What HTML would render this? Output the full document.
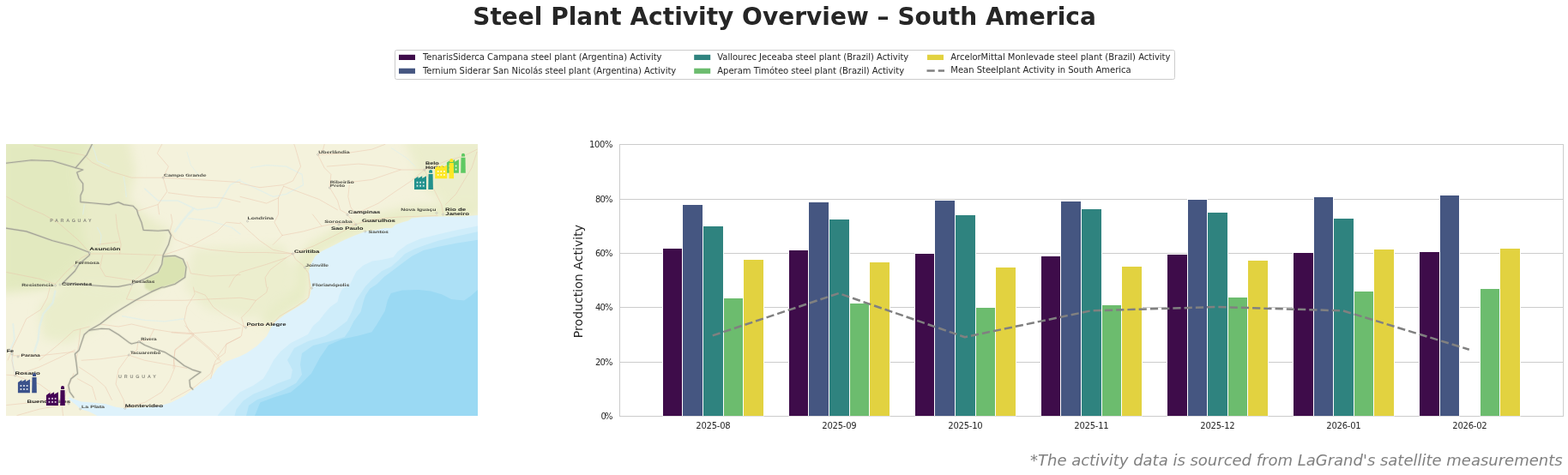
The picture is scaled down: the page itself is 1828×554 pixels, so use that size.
<!DOCTYPE html>
<html lang="en"><head><meta charset="utf-8"><title>Steel Plant Activity Overview – South America</title><style>html,body{margin:0;padding:0;background:#fff}body{width:1828px;height:554px;overflow:hidden}</style></head><body>
<svg width="1828" height="554" viewBox="0 0 1828 554" style="display:block;font-family:'DejaVu Sans','Liberation Sans',sans-serif">
<rect width="1828" height="554" fill="#fff"/>
<text x="914.5" y="28.5" text-anchor="middle" font-size="28" font-weight="bold" fill="#262626" textLength="726.6">Steel Plant Activity Overview – South America</text>
<rect x="460.5" y="58.5" width="909" height="34" rx="2" ry="2" fill="#fff" stroke="#cccccc" stroke-width="1"/>
<rect x="465.0" y="63.8" width="19" height="6.2" fill="#3e0c4a"/>
<text x="492.9" y="70.0" font-size="10" fill="#262626" textLength="278.58">TenarisSiderca Campana steel plant (Argentina) Activity</text>
<rect x="465.0" y="79.7" width="19" height="6.2" fill="#455681"/>
<text x="492.9" y="85.9" font-size="10" fill="#262626" textLength="295.33">Ternium Siderar San Nicolás steel plant (Argentina) Activity</text>
<rect x="809.2" y="63.8" width="19" height="6.2" fill="#2f837f"/>
<text x="836.3" y="70.0" font-size="10" fill="#262626" textLength="222.94">Vallourec Jeceaba steel plant (Brazil) Activity</text>
<rect x="809.2" y="79.7" width="19" height="6.2" fill="#6cbc6e"/>
<text x="836.3" y="85.9" font-size="10" fill="#262626" textLength="217.78">Aperam Timóteo steel plant (Brazil) Activity</text>
<rect x="1081.0" y="63.8" width="19" height="6.2" fill="#e2d240"/>
<text x="1108.3" y="70.0" font-size="10" fill="#262626" textLength="256.13">ArcelorMittal Monlevade steel plant (Brazil) Activity</text>
<path d="M1080.5 82.5H1101" stroke="#808080" stroke-width="2.5" stroke-dasharray="9.25 4" fill="none"/>
<text x="1108.3" y="84.5" font-size="10" fill="#262626" textLength="210.34">Mean Steelplant Activity in South America</text>
<path d="M722.5 485.50H1822.5" stroke="#cccccc" stroke-width="1" fill="none"/>
<text x="714.4" y="489.25" text-anchor="end" font-size="10" fill="#262626" textLength="14.0">0%</text>
<path d="M722.5 422.50H1822.5" stroke="#cccccc" stroke-width="1" fill="none"/>
<text x="714.4" y="425.85" text-anchor="end" font-size="10" fill="#262626" textLength="20.3">20%</text>
<path d="M722.5 358.50H1822.5" stroke="#cccccc" stroke-width="1" fill="none"/>
<text x="714.4" y="362.45" text-anchor="end" font-size="10" fill="#262626" textLength="20.3">40%</text>
<path d="M722.5 295.50H1822.5" stroke="#cccccc" stroke-width="1" fill="none"/>
<text x="714.4" y="299.05" text-anchor="end" font-size="10" fill="#262626" textLength="20.3">60%</text>
<path d="M722.5 232.50H1822.5" stroke="#cccccc" stroke-width="1" fill="none"/>
<text x="714.4" y="235.65" text-anchor="end" font-size="10" fill="#262626" textLength="20.3">80%</text>
<path d="M722.5 168.50H1822.5" stroke="#cccccc" stroke-width="1" fill="none"/>
<text x="714.4" y="172.25" text-anchor="end" font-size="10" fill="#262626" textLength="27.3">100%</text>
<rect x="722.5" y="168.5" width="1100.0" height="317.0" fill="none" stroke="#cccccc" stroke-width="1"/>
<rect x="772.5" y="289.5" width="23.0" height="196.0" fill="#3e0c4a" stroke="#fff" stroke-width="1"/>
<rect x="795.5" y="238.5" width="24.0" height="247.0" fill="#455681" stroke="#fff" stroke-width="1"/>
<rect x="819.5" y="263.5" width="24.0" height="222.0" fill="#2f837f" stroke="#fff" stroke-width="1"/>
<rect x="843.5" y="347.5" width="23.0" height="138.0" fill="#6cbc6e" stroke="#fff" stroke-width="1"/>
<rect x="866.5" y="302.5" width="24.0" height="183.0" fill="#e2d240" stroke="#fff" stroke-width="1"/>
<rect x="919.5" y="291.5" width="23.0" height="194.0" fill="#3e0c4a" stroke="#fff" stroke-width="1"/>
<rect x="942.5" y="235.5" width="24.0" height="250.0" fill="#455681" stroke="#fff" stroke-width="1"/>
<rect x="966.5" y="255.5" width="24.0" height="230.0" fill="#2f837f" stroke="#fff" stroke-width="1"/>
<rect x="990.5" y="353.5" width="23.0" height="132.0" fill="#6cbc6e" stroke="#fff" stroke-width="1"/>
<rect x="1013.5" y="305.5" width="24.0" height="180.0" fill="#e2d240" stroke="#fff" stroke-width="1"/>
<rect x="1066.5" y="295.5" width="23.0" height="190.0" fill="#3e0c4a" stroke="#fff" stroke-width="1"/>
<rect x="1089.5" y="233.5" width="24.0" height="252.0" fill="#455681" stroke="#fff" stroke-width="1"/>
<rect x="1113.5" y="250.5" width="24.0" height="235.0" fill="#2f837f" stroke="#fff" stroke-width="1"/>
<rect x="1137.5" y="358.5" width="23.0" height="127.0" fill="#6cbc6e" stroke="#fff" stroke-width="1"/>
<rect x="1160.5" y="311.5" width="24.0" height="174.0" fill="#e2d240" stroke="#fff" stroke-width="1"/>
<rect x="1213.5" y="298.5" width="23.0" height="187.0" fill="#3e0c4a" stroke="#fff" stroke-width="1"/>
<rect x="1236.5" y="234.5" width="24.0" height="251.0" fill="#455681" stroke="#fff" stroke-width="1"/>
<rect x="1260.5" y="243.5" width="24.0" height="242.0" fill="#2f837f" stroke="#fff" stroke-width="1"/>
<rect x="1284.5" y="355.5" width="23.0" height="130.0" fill="#6cbc6e" stroke="#fff" stroke-width="1"/>
<rect x="1307.5" y="310.5" width="24.0" height="175.0" fill="#e2d240" stroke="#fff" stroke-width="1"/>
<rect x="1360.5" y="296.5" width="24.0" height="189.0" fill="#3e0c4a" stroke="#fff" stroke-width="1"/>
<rect x="1384.5" y="232.5" width="23.0" height="253.0" fill="#455681" stroke="#fff" stroke-width="1"/>
<rect x="1407.5" y="247.5" width="24.0" height="238.0" fill="#2f837f" stroke="#fff" stroke-width="1"/>
<rect x="1431.5" y="346.5" width="23.0" height="139.0" fill="#6cbc6e" stroke="#fff" stroke-width="1"/>
<rect x="1454.5" y="303.5" width="24.0" height="182.0" fill="#e2d240" stroke="#fff" stroke-width="1"/>
<rect x="1507.5" y="294.5" width="24.0" height="191.0" fill="#3e0c4a" stroke="#fff" stroke-width="1"/>
<rect x="1531.5" y="229.5" width="23.0" height="256.0" fill="#455681" stroke="#fff" stroke-width="1"/>
<rect x="1554.5" y="254.5" width="24.0" height="231.0" fill="#2f837f" stroke="#fff" stroke-width="1"/>
<rect x="1578.5" y="339.5" width="23.0" height="146.0" fill="#6cbc6e" stroke="#fff" stroke-width="1"/>
<rect x="1601.5" y="290.5" width="24.0" height="195.0" fill="#e2d240" stroke="#fff" stroke-width="1"/>
<rect x="1654.5" y="293.5" width="24.0" height="192.0" fill="#3e0c4a" stroke="#fff" stroke-width="1"/>
<rect x="1678.5" y="227.5" width="23.0" height="258.0" fill="#455681" stroke="#fff" stroke-width="1"/>
<rect x="1725.5" y="336.5" width="23.0" height="149.0" fill="#6cbc6e" stroke="#fff" stroke-width="1"/>
<rect x="1748.5" y="289.5" width="24.0" height="196.0" fill="#e2d240" stroke="#fff" stroke-width="1"/>
<path d="M722.5 485.5H1822.5" stroke="#cccccc" stroke-opacity="0.6" stroke-width="1" fill="none"/>
<polyline points="830.76,391.40 977.77,342.10 1124.78,393.20 1271.78,362.40 1418.78,358.00 1565.79,362.40 1712.80,407.70" fill="none" stroke="#808080" stroke-width="2.5" stroke-dasharray="9.25 4" stroke-linejoin="round"/>
<text x="831.47" y="499.8" text-anchor="middle" font-size="10" fill="#262626" textLength="40.4">2025-08</text>
<text x="978.47" y="499.8" text-anchor="middle" font-size="10" fill="#262626" textLength="40.4">2025-09</text>
<text x="1125.48" y="499.8" text-anchor="middle" font-size="10" fill="#262626" textLength="40.4">2025-10</text>
<text x="1272.48" y="499.8" text-anchor="middle" font-size="10" fill="#262626" textLength="40.4">2025-11</text>
<text x="1419.48" y="499.8" text-anchor="middle" font-size="10" fill="#262626" textLength="40.4">2025-12</text>
<text x="1566.49" y="499.8" text-anchor="middle" font-size="10" fill="#262626" textLength="40.4">2026-01</text>
<text x="1713.50" y="499.8" text-anchor="middle" font-size="10" fill="#262626" textLength="40.4">2026-02</text>
<text transform="translate(679 328.1) rotate(-90)" text-anchor="middle" font-size="14" fill="#262626" textLength="132.3">Production Activity</text>
<text x="1821.6" y="543" text-anchor="end" font-size="18" font-style="italic" fill="#808080" textLength="620.6">*The activity data is sourced from LaGrand's satellite measurements</text>
<defs><clipPath id="mc"><rect x="7" y="168" width="550" height="317"/></clipPath><filter id="b6" x="-30%" y="-30%" width="160%" height="160%"><feGaussianBlur stdDeviation="6"/></filter><filter id="b3" x="-30%" y="-30%" width="160%" height="160%"><feGaussianBlur stdDeviation="3"/></filter><filter id="b1" x="-10%" y="-10%" width="120%" height="120%"><feGaussianBlur stdDeviation="1"/></filter><filter id="b05" x="-5%" y="-5%" width="110%" height="110%"><feGaussianBlur stdDeviation="0.45"/></filter></defs>
<g clip-path="url(#mc)">
<rect x="7" y="168" width="550" height="317" fill="#f4f2dc"/>
<g filter="url(#b6)">
<path d="M0.0 160.0 L108.0 160.0 L101.0 181.0 L88.0 196.0 L93.0 236.0 L100.0 246.0 L96.0 270.0 L104.0 295.0 L90.0 310.0 L75.0 328.0 L50.0 337.0 L0.0 342.0Z" fill="#e2e9be" fill-opacity="0.95"/>
<path d="M108.0 160.0 L150.0 160.0 L158.0 200.0 L150.0 232.0 L168.0 250.0 L200.0 270.0 L192.0 298.0 L185.0 318.0 L150.0 333.0 L75.0 330.0 L104.0 295.0 L96.0 270.0 L93.0 236.0 L88.0 196.0Z" fill="#e7ebc6" fill-opacity="0.85"/>
<path d="M75.0 330.0 L150.0 335.0 L190.0 335.0 L140.0 360.0 L105.0 385.0 L80.0 400.0 L50.0 395.0 L45.0 360.0Z" fill="#e6ebc4" fill-opacity="0.7"/>
<path d="M560.0 240.0 L557.0 252.0 L480.0 256.0 L461.0 263.0 L426.0 271.0 L400.0 281.0 L375.0 294.0 L363.0 307.0 L361.0 335.0 L357.0 352.0 L332.0 367.0 L316.0 382.0 L300.0 372.0 L330.0 350.0 L345.0 330.0 L345.0 305.0 L360.0 285.0 L395.0 265.0 L440.0 250.0 L480.0 240.0Z" fill="#e2e9be" fill-opacity="0.7"/>
<path d="M470.0 160.0 L565.0 160.0 L565.0 245.0 L520.0 240.0 L490.0 215.0 L480.0 185.0Z" fill="#e6ebc4" fill-opacity="0.65"/>
<path d="M225.0 290.0 L330.0 285.0 L345.0 320.0 L330.0 355.0 L290.0 372.0 L240.0 360.0 L215.0 335.0Z" fill="#e6ebc4" fill-opacity="0.6"/>
</g>
<path d="M190.2 299.1 L204.0 298.3 L213.3 302.2 L217.1 311.4 L215.6 323.6 L204.0 331.3 L191.8 335.0 L176.4 340.4 L168.8 336.0 L168.8 325.2 L184.1 317.5 L188.7 308.3Z" fill="#d9e3b0" fill-opacity="0.95" filter="url(#b1)"/>
<g filter="url(#b05)">
<path d="M557.0 251.0 L540.0 252.5 L516.0 252.5 L495.0 253.0 L480.0 254.5 L476.0 257.5 L470.0 259.0 L461.0 262.0 L457.0 266.0 L449.0 266.0 L440.0 268.0 L426.0 270.0 L414.0 274.5 L400.0 280.5 L387.5 287.0 L375.0 293.0 L367.5 299.0 L363.0 307.0 L360.0 316.0 L361.0 325.0 L363.5 335.0 L361.5 344.0 L357.0 352.0 L344.5 359.5 L332.0 367.0 L321.5 375.0 L316.0 382.0 L311.0 392.0 L299.5 403.5 L288.0 411.5 L279.5 415.7 L263.5 421.7 L253.6 429.6 L245.7 441.6 L234.7 447.0 L224.0 455.0 L214.8 461.8 L199.4 469.4 L184.0 474.0 L161.0 475.6 L145.7 476.3 L135.0 474.8 L122.7 471.0 L107.4 469.4 L95.0 468.5 L86.0 465.5 L80.0 463.0 L81.3 466.4 L89.0 472.5 L93.6 477.0 L104.3 480.2 L113.5 485.0 L562.0 490.0 L562.0 251.0Z" fill="#def2fb"/>
<path d="M557.0 263.5 L531.6 268.5 L510.0 273.5 L490.0 278.5 L475.0 285.0 L464.0 293.0 L458.5 300.0 L445.0 303.0 L434.0 304.5 L423.5 309.5 L415.5 316.5 L412.0 323.5 L408.0 332.0 L399.0 337.0 L395.5 344.0 L393.5 352.0 L385.0 358.0 L378.0 366.0 L372.0 374.0 L365.0 380.0 L359.0 390.0 L339.0 400.0 L327.0 410.0 L319.0 420.0 L313.0 431.5 L307.0 441.5 L295.5 449.5 L279.5 457.5 L267.5 469.5 L257.5 479.5 L253.5 485.0 L557.0 485.0Z" fill="#cfedfa"/>
<path d="M557.0 270.3 L531.6 275.7 L510.0 281.0 L493.7 286.5 L483.0 290.6 L472.0 296.0 L464.0 304.0 L456.0 311.0 L445.0 316.3 L434.0 325.8 L426.0 334.0 L420.6 342.0 L415.2 350.2 L410.0 363.7 L404.5 374.5 L392.0 384.0 L379.0 392.0 L359.0 398.0 L343.0 406.0 L335.0 420.0 L341.0 431.5 L339.0 441.5 L323.0 447.5 L311.0 453.5 L295.5 459.5 L283.5 467.5 L275.5 477.5 L273.5 485.0 L557.0 485.0Z" fill="#bfe7f8"/>
<path d="M557.0 279.8 L531.6 283.8 L510.0 288.0 L493.7 292.0 L480.2 298.7 L469.3 306.8 L458.5 315.0 L447.7 323.0 L439.6 331.2 L431.4 336.6 L426.0 344.7 L423.3 353.0 L420.6 363.7 L412.5 374.5 L407.0 385.4 L401.7 393.0 L385.0 398.0 L365.0 403.0 L352.0 412.0 L350.0 425.0 L352.0 437.0 L345.0 447.0 L330.0 455.0 L315.0 461.0 L300.0 466.0 L290.0 473.0 L287.0 485.0 L557.0 485.0Z" fill="#ace0f6"/>
<path d="M557.0 338.0 L549.0 345.0 L541.0 350.5 L526.0 349.0 L515.5 343.5 L502.0 339.5 L488.0 338.0 L469.0 338.5 L455.8 342.0 L451.8 350.3 L448.8 362.6 L439.6 378.0 L433.4 387.2 L418.0 391.5 L399.0 395.5 L383.0 402.5 L373.0 417.0 L363.0 435.6 L351.0 447.5 L339.0 457.4 L319.0 463.4 L303.3 469.4 L299.3 479.3 L297.0 485.0 L557.0 485.0Z" fill="#9ad9f3"/>
</g>
<g fill="none" stroke-linejoin="round" stroke-linecap="round" filter="url(#b05)">
<path d="M107.4 169.6 L110.5 177.3 L113.5 188.0 L127.3 194.1" stroke="#dbeeee" stroke-opacity="0.6" stroke-width="1.2"/>
<path d="M144.2 206.4 L145.7 215.6 L147.3 229.4" stroke="#dbeeee" stroke-opacity="0.6" stroke-width="1.2"/>
<path d="M98.2 238.6 L96.7 250.0" stroke="#dbeeee" stroke-opacity="0.6" stroke-width="1.2"/>
<path d="M217.9 177.3 L222.5 192.6 L232.0 205.0" stroke="#dbeeee" stroke-opacity="0.6" stroke-width="1.0"/>
<path d="M168.8 220.2 L184.1 234.0 L207.1 234.0 L230.1 244.8 L253.1 241.7 L268.5 215.6 L280.0 209.5" stroke="#dbeeee" stroke-opacity="0.6" stroke-width="1.6"/>
<path d="M225.0 244.0 L219.4 250.0 L211.7 259.2 L204.0 269.9" stroke="#dbeeee" stroke-opacity="0.6" stroke-width="2.6"/>
<path d="M113.5 265.3 L118.1 274.5 L116.6 285.3" stroke="#dbeeee" stroke-opacity="0.6" stroke-width="1.2"/>
<path d="M219.4 254.6 L245.5 257.7 L270.0 265.3 L280.0 273.0" stroke="#dbeeee" stroke-opacity="0.6" stroke-width="1.2"/>
<path d="M64.4 339.6 L61.4 353.4 L50.6 365.7 L46.0 381.0 L44.5 396.4 L40.0 410.0" stroke="#dbeeee" stroke-opacity="0.6" stroke-width="2.4"/>
<path d="M15.3 378.0 L16.9 396.4 L12.3 407.1 L13.8 412.7 L15.3 428.0 L18.4 437.2" stroke="#dbeeee" stroke-opacity="0.6" stroke-width="2.0"/>
<path d="M142.7 368.8 L168.8 373.4 L191.8 374.9 L214.8 371.8" stroke="#dbeeee" stroke-opacity="0.6" stroke-width="1.4"/>
<path d="M292.3 195.7 L310.7 192.6 L333.7 194.1 L352.1 203.4 L353.6 215.6 L333.7 226.4 L318.4 229.4 L280.0 211.0" stroke="#dbeeee" stroke-opacity="0.6" stroke-width="1.2"/>
<path d="M456.4 172.7 L474.8 184.9 L484.0 194.1" stroke="#dbeeee" stroke-opacity="0.6" stroke-width="1.0"/>
<path d="M188.7 168.4 L183.3 178.8 L196.4 194.2 L190.2 207.2 L194.8 223.3 L184.1 238.6 L185.6 250.0M39.9 169.6 L98.2 181.1 L107.4 189.5 L130.4 200.3 L153.4 207.2 L190.2 207.2 L230.1 209.5 L280.0 212.6M196.4 224.8 L230.1 229.4 L260.8 231.0 L280.0 235.6M159.6 246.3 L184.1 238.6M7.7 229.4 L30.7 241.7 L50.6 250.0 L69.0 260.7 L92.0 280.7 L104.3 294.5M280.0 214.1 L303.0 218.7 L330.6 215.6 L341.4 211.0 L350.6 194.1 L344.4 172.7 L342.9 168.4M370.5 180.3 L378.2 195.7 L385.9 203.4 L384.3 218.7 L393.5 234.0 L396.6 244.8 L405.8 250.0M370.5 180.3 L402.7 178.8 L433.4 174.2 L448.8 168.4M381.3 194.1 L418.1 191.1 L448.8 194.1 L467.2 198.0 L494.8 198.0M494.8 198.0 L507.1 223.3 L514.7 238.6 L516.3 247.8M494.8 198.0 L479.4 211.0 L461.0 223.3 L441.1 237.1 L418.1 247.8M494.8 198.0 L519.3 188.0 L540.8 181.9 L556.2 174.2M556.0 177.3 L550.0 195.7 L540.8 211.0 L531.6 226.4 L519.3 238.6M407.3 212.6 L433.4 209.5 L467.2 198.0M407.3 215.6 L405.8 229.4 L408.9 241.7 L415.0 250.0M280.0 229.4 L310.7 237.1 L324.5 231.0 L330.6 217.2M324.5 231.0 L324.5 250.0 L319.9 259.2 L326.0 269.9 L329.1 274.5M330.6 217.2 L372.0 232.5 L393.5 244.8M378.2 168.4 L376.7 174.2 L370.5 180.3M135.0 250.0 L136.5 265.3 L141.1 285.3 L139.6 296.0M104.3 296.0 L139.6 296.0 L190.2 297.6 L222.5 286.8 L253.1 269.9 L263.9 259.2 L280.0 260.7M113.5 285.3 L138.1 282.2M119.7 297.6 L116.6 311.4 L122.7 322.1 L153.4 326.7M181.0 297.6 L168.8 317.5 L153.4 329.8M199.4 250.0 L201.0 259.2 L197.9 269.9 L204.0 279.1 L222.5 286.8 L245.5 291.4 L280.0 294.5 L310.7 294.5 L341.4 296.0M217.9 305.2 L222.5 319.0 L245.5 322.1 L280.0 320.6M7.7 317.5 L46.0 325.2 L64.4 331.3M64.4 331.3 L76.7 317.5 L95.1 300.6 L104.3 296.0M267.0 335.0 L273.1 323.6 L280.0 317.5 L310.7 308.3 L333.7 300.6 L341.4 296.0M280.0 259.2 L289.2 268.4 L303.0 280.7 L318.4 291.4 L341.4 296.0M329.1 274.5 L353.6 269.9 L375.1 263.8 L390.5 260.7 L415.0 261.5M329.1 274.5 L318.4 285.3M341.4 296.0 L365.9 286.8 L387.4 276.1 L405.8 266.9 L415.0 261.5M341.4 296.0 L344.4 302.2 L353.6 309.8 L359.8 319.0 L361.3 335.0 L359.8 347.3 L344.4 358.0 L326.0 368.8 L318.4 376.4 L300.0 380.0 L284.6 381.0M310.7 335.0 L309.1 323.6 L315.3 314.4 L333.7 300.6M364.4 250.0 L375.1 263.8M404.3 250.0 L415.0 261.5M415.0 261.5 L433.4 256.1 L464.1 253.1 L510.1 251.5M58.3 335.0 L55.2 347.3 L47.6 361.1 L30.7 371.8 L23.0 388.7 L15.3 404.0 L9.2 420.0M153.4 335.0 L147.3 348.8 L158.0 350.3 L214.8 350.3 L245.5 348.8 L280.0 347.3 L298.4 350.3M225.5 335.0 L227.1 342.7 L217.9 358.0 L214.8 373.4 L220.9 387.2 L225.5 391.8 L204.0 408.6 L202.5 420.0 L204.0 428.0 L197.9 443.4 L188.7 457.2 L168.8 469.4 L145.7 475.6M227.1 339.6 L239.3 344.2 L248.5 358.0 L260.8 367.2 L280.0 378.0 L284.6 381.0M116.6 378.0 L138.1 381.0 L153.4 378.0 L179.5 384.1 L199.4 387.2 L225.5 388.7 L260.8 385.6 L280.0 382.6M179.5 384.1 L173.4 396.4 L161.1 397.9 L159.6 408.6 L150.3 414.0 L138.1 431.1 L135.0 448.0 L144.2 466.4 L145.7 475.6M225.5 391.8 L245.5 408.6 L254.7 420.0M280.0 393.3 L263.9 401.0 L262.3 411.7 L251.6 420.0 L245.5 435.7 L227.1 451.0 L199.4 466.4M93.6 384.1 L92.0 399.4 L89.0 420.0M46.0 420.0 L69.0 401.0 L85.9 385.6 L104.3 381.0M15.3 414.8 L46.0 414.8 L87.4 410.2M95.1 420.3 L116.6 418.8 L150.3 414.2 L168.8 420.3 L202.5 426.5 L217.9 429.5M92.0 428.0 L110.5 440.3 L122.7 451.0 L130.4 466.4M90.5 441.8 L107.4 451.0 L112.0 466.4M7.7 437.2 L17.6 438.0 L46.0 448.0 L69.0 464.8 L79.8 471.0M17.6 438.0 L13.8 420.3 L15.3 411.1M73.6 484.8 L72.1 472.5 L79.8 451.0 L85.9 435.7M7.7 472.5 L38.4 469.4 L69.0 464.8M19.9 484.5 L46.0 477.1 L72.1 472.5M17.6 438.0 L46.0 428.0 L69.0 417.3 L87.4 408.1M312.2 335.0 L310.7 341.1 L298.4 350.3 L290.7 361.1 L281.5 370.3 L284.6 381.0M283.4 380.0 L281.4 391.9 L263.5 401.8 L253.6 415.7 L257.6 421.7 L249.6 425.7 L245.7 441.6M215.9 380.0 L225.8 389.9 L255.6 415.7M200.0 387.9 L225.8 389.9M225.8 389.9 L204.0 407.8 L202.0 429.6" stroke="#e8c0a6" stroke-opacity="0.7" stroke-width="0.65"/>
</g>
<g fill="none" stroke-linejoin="round" stroke-linecap="round" filter="url(#b05)">
<path d="M107.4 168.0 L101.3 180.3 L88.2 195.7 L96.7 198.0 L89.7 201.0 L92.0 208.0 L96.7 214.1 L96.7 221.8 L93.9 227.9 L93.9 235.6 L107.4 236.8 L127.3 238.6 L138.0 235.9 L144.2 238.6 L155.0 240.2 L159.6 244.8 L161.0 250.0 L164.9 259.2 L167.2 268.4 L184.1 269.2 L196.4 268.4 L199.4 274.5 L196.4 285.3 L190.2 297.6 L188.7 308.3 L184.1 317.5 L168.8 325.2 L153.4 331.3 L138.0 334.4 L130.4 334.4 L107.4 332.8 L73.6 329.8" stroke="#c8c8b6" stroke-opacity="0.4" stroke-width="2.8"/>
<path d="M7.0 190.3 L36.8 186.8 L61.4 187.7 L88.2 195.7" stroke="#c8c8b6" stroke-opacity="0.4" stroke-width="2.8"/>
<path d="M7.0 266.1 L30.7 269.9 L61.4 280.7 L84.4 286.8 L104.3 294.5 L104.3 297.6 L92.0 308.3 L87.4 316.0 L76.7 326.7 L73.6 329.8" stroke="#c8c8b6" stroke-opacity="0.4" stroke-width="2.8"/>
<path d="M190.2 299.1 L204.0 298.3 L213.3 302.2 L217.1 311.4 L215.6 323.6 L204.0 331.3 L191.8 335.0 L188.7 335.0 L176.4 340.4 L158.0 350.3 L142.7 359.5 L130.4 367.2 L116.6 378.0 L104.3 384.9 L98.2 390.2 L95.1 399.4 L92.0 408.6 L87.4 412.7 L89.0 423.4 L90.5 435.7 L82.8 441.8 L79.8 449.5 L81.3 457.2 L85.9 463.3" stroke="#c8c8b6" stroke-opacity="0.4" stroke-width="2.8"/>
<path d="M104.3 385.3 L118.1 383.3 L127.3 383.8 L138.1 390.2 L150.3 399.4 L153.4 401.0 L162.6 398.7 L168.8 402.5 L178.0 406.3 L191.8 410.6 L204.0 418.0 L214.8 426.5 L224.0 431.1 L234.0 434.1 L227.0 438.8 L220.9 443.4 L221.7 451.0 L224.8 454.1" stroke="#c8c8b6" stroke-opacity="0.4" stroke-width="2.8"/>
<path d="M107.4 168.0 L101.3 180.3 L88.2 195.7 L96.7 198.0 L89.7 201.0 L92.0 208.0 L96.7 214.1 L96.7 221.8 L93.9 227.9 L93.9 235.6 L107.4 236.8 L127.3 238.6 L138.0 235.9 L144.2 238.6 L155.0 240.2 L159.6 244.8 L161.0 250.0 L164.9 259.2 L167.2 268.4 L184.1 269.2 L196.4 268.4 L199.4 274.5 L196.4 285.3 L190.2 297.6 L188.7 308.3 L184.1 317.5 L168.8 325.2 L153.4 331.3 L138.0 334.4 L130.4 334.4 L107.4 332.8 L73.6 329.8" stroke="#a3a396" stroke-width="1.15"/>
<path d="M7.0 190.3 L36.8 186.8 L61.4 187.7 L88.2 195.7" stroke="#a3a396" stroke-width="1.15"/>
<path d="M7.0 266.1 L30.7 269.9 L61.4 280.7 L84.4 286.8 L104.3 294.5 L104.3 297.6 L92.0 308.3 L87.4 316.0 L76.7 326.7 L73.6 329.8" stroke="#a3a396" stroke-width="1.15"/>
<path d="M190.2 299.1 L204.0 298.3 L213.3 302.2 L217.1 311.4 L215.6 323.6 L204.0 331.3 L191.8 335.0 L188.7 335.0 L176.4 340.4 L158.0 350.3 L142.7 359.5 L130.4 367.2 L116.6 378.0 L104.3 384.9 L98.2 390.2 L95.1 399.4 L92.0 408.6 L87.4 412.7 L89.0 423.4 L90.5 435.7 L82.8 441.8 L79.8 449.5 L81.3 457.2 L85.9 463.3" stroke="#a3a396" stroke-width="1.15"/>
<path d="M104.3 385.3 L118.1 383.3 L127.3 383.8 L138.1 390.2 L150.3 399.4 L153.4 401.0 L162.6 398.7 L168.8 402.5 L178.0 406.3 L191.8 410.6 L204.0 418.0 L214.8 426.5 L224.0 431.1 L234.0 434.1 L227.0 438.8 L220.9 443.4 L221.7 451.0 L224.8 454.1" stroke="#a3a396" stroke-width="1.15"/>
</g>
<g fill="#fffef4" fill-opacity="0.8" stroke="#7a7a6e" stroke-opacity="0.7" stroke-width="0.45"><circle cx="190.2" cy="207.2" r="1"/><circle cx="370.5" cy="180.3" r="1"/><circle cx="494.8" cy="198" r="1"/><circle cx="384.3" cy="219" r="1"/><circle cx="405" cy="250.5" r="1"/><circle cx="415" cy="262" r="1"/><circle cx="395" cy="262" r="1"/><circle cx="425.7" cy="270" r="1"/><circle cx="509" cy="248.5" r="1"/><circle cx="516.5" cy="250" r="1"/><circle cx="288.5" cy="258" r="1"/><circle cx="341.4" cy="296" r="1"/><circle cx="355.5" cy="312" r="1"/><circle cx="363.5" cy="336" r="1"/><circle cx="286.5" cy="382" r="1"/><circle cx="104.3" cy="295" r="1"/><circle cx="87.5" cy="310" r="1"/><circle cx="64.5" cy="333" r="1"/><circle cx="70" cy="332" r="1"/><circle cx="153.5" cy="332" r="1"/><circle cx="162" cy="398.5" r="1"/><circle cx="150.3" cy="414" r="1"/><circle cx="14" cy="413" r="1"/><circle cx="21" cy="416" r="1"/><circle cx="17.6" cy="438" r="1"/><circle cx="80" cy="471" r="1"/><circle cx="93.6" cy="477" r="1"/><circle cx="145.7" cy="476.3" r="1"/></g>
<g font-family="'Liberation Sans','DejaVu Sans',sans-serif" filter="url(#b05)" text-rendering="geometricPrecision">
<text x="191" y="206.1" font-size="4.8" font-weight="bold" fill="#4a4a42" textLength="49.6" lengthAdjust="spacingAndGlyphs">Campo Grande</text>
<text x="371.3" y="178.8" font-size="4.8" font-weight="bold" fill="#4a4a42" textLength="36.3" lengthAdjust="spacingAndGlyphs">Uberlândia</text>
<text x="496" y="191.8" font-size="5.2" font-weight="bold" fill="#22221e" textLength="15.7" lengthAdjust="spacingAndGlyphs">Belo</text>
<text x="496" y="196.6" font-size="5.2" font-weight="bold" fill="#22221e" textLength="33" lengthAdjust="spacingAndGlyphs">Horizonte</text>
<text x="384.8" y="213.8" font-size="4.8" font-weight="bold" fill="#4a4a42" textLength="27.9" lengthAdjust="spacingAndGlyphs">Ribeirão</text>
<text x="384.8" y="217.9" font-size="4.8" font-weight="bold" fill="#4a4a42" textLength="17.2" lengthAdjust="spacingAndGlyphs">Preto</text>
<text x="406.1" y="249.1" font-size="5.2" font-weight="bold" fill="#22221e" textLength="37.3" lengthAdjust="spacingAndGlyphs">Campinas</text>
<text x="467.2" y="246.3" font-size="4.8" font-weight="bold" fill="#4a4a42" textLength="41.4" lengthAdjust="spacingAndGlyphs">Nova Iguaçu</text>
<text x="519" y="246.3" font-size="5.2" font-weight="bold" fill="#22221e" textLength="24.1" lengthAdjust="spacingAndGlyphs">Rio de</text>
<text x="519.3" y="251.2" font-size="5.2" font-weight="bold" fill="#22221e" textLength="27.7" lengthAdjust="spacingAndGlyphs">Janeiro</text>
<text x="288.4" y="256.1" font-size="4.8" font-weight="bold" fill="#4a4a42" textLength="30.7" lengthAdjust="spacingAndGlyphs">Londrina</text>
<text x="378.2" y="259.7" font-size="4.8" font-weight="bold" fill="#4a4a42" textLength="32.7" lengthAdjust="spacingAndGlyphs">Sorocaba</text>
<text x="421.9" y="258.7" font-size="5.2" font-weight="bold" fill="#22221e" textLength="39.1" lengthAdjust="spacingAndGlyphs">Guarulhos</text>
<text x="385.9" y="267.8" font-size="5.2" font-weight="bold" fill="#22221e" textLength="37.5" lengthAdjust="spacingAndGlyphs">Sao Paulo</text>
<text x="429.6" y="272.3" font-size="4.8" font-weight="bold" fill="#4a4a42" textLength="23.4" lengthAdjust="spacingAndGlyphs">Santos</text>
<text x="342.9" y="294.5" font-size="5.2" font-weight="bold" fill="#22221e" textLength="29.6" lengthAdjust="spacingAndGlyphs">Curitiba</text>
<text x="356.2" y="310.6" font-size="4.8" font-weight="bold" fill="#4a4a42" textLength="26.9" lengthAdjust="spacingAndGlyphs">Joinville</text>
<text x="364" y="334.1" font-size="4.8" font-weight="bold" fill="#4a4a42" textLength="43.3" lengthAdjust="spacingAndGlyphs">Florianópolis</text>
<text x="287.4" y="380.4" font-size="5.2" font-weight="bold" fill="#22221e" textLength="46.3" lengthAdjust="spacingAndGlyphs">Porto Alegre</text>
<text x="58.3" y="258.9" font-size="5.4" font-weight="bold" fill="#8c8c80" textLength="48.3" lengthAdjust="spacing">PARAGUAY</text>
<text x="104.3" y="291.9" font-size="5.2" font-weight="bold" fill="#22221e" textLength="36.1" lengthAdjust="spacingAndGlyphs">Asunción</text>
<text x="87.4" y="308.0" font-size="4.8" font-weight="bold" fill="#4a4a42" textLength="28.4" lengthAdjust="spacingAndGlyphs">Formosa</text>
<text x="25.3" y="333.6" font-size="4.8" font-weight="bold" fill="#4a4a42" textLength="36.8" lengthAdjust="spacingAndGlyphs">Resistencia</text>
<text x="72.1" y="332.8" font-size="4.9" font-weight="bold" fill="#33332e" textLength="35.3" lengthAdjust="spacingAndGlyphs">Corrientes</text>
<text x="153.4" y="330.1" font-size="4.8" font-weight="bold" fill="#4a4a42" textLength="26.9" lengthAdjust="spacingAndGlyphs">Posadas</text>
<text x="164.2" y="397.3" font-size="4.8" font-weight="bold" fill="#4a4a42" textLength="18.4" lengthAdjust="spacingAndGlyphs">Rivera</text>
<text x="151.9" y="413.1" font-size="4.8" font-weight="bold" fill="#4a4a42" textLength="35.3" lengthAdjust="spacingAndGlyphs">Tacuarembó</text>
<text x="7.7" y="410.9" font-size="5.2" font-weight="bold" fill="#22221e" textLength="8.4" lengthAdjust="spacingAndGlyphs">Fe</text>
<text x="24.5" y="415.7" font-size="4.9" font-weight="bold" fill="#33332e" textLength="22.3" lengthAdjust="spacingAndGlyphs">Parana</text>
<text x="17.6" y="436.5" font-size="5.2" font-weight="bold" fill="#22221e" textLength="29.2" lengthAdjust="spacingAndGlyphs">Rosario</text>
<text x="31.5" y="469.6" font-size="5.2" font-weight="bold" fill="#22221e" textLength="50.6" lengthAdjust="spacingAndGlyphs">Buenos Aires</text>
<text x="95.1" y="475.8" font-size="4.8" font-weight="bold" fill="#4a4a42" textLength="26.9" lengthAdjust="spacingAndGlyphs">La Plata</text>
<text x="145.7" y="474.9" font-size="5.2" font-weight="bold" fill="#22221e" textLength="44.5" lengthAdjust="spacingAndGlyphs">Montevideo</text>
<text x="138.1" y="441.2" font-size="5.4" font-weight="bold" fill="#8c8c80" textLength="43.7" lengthAdjust="spacing">URUGUAY</text>
</g>
<g transform="translate(520.90 179.40) scale(1.0)" fill="#5ec962">
<path d="M0 22.4V10.2L4.5 7.1V9.3L9.2 6.6V9.3L14 6.6V22.4Z"/>
<path d="M16.3 22.4L16.6 4.3H21.6L21.9 22.4Z"/>
<path d="M17.1 3.2V1.4A2 2.1 0 0 1 21.1 1.4V3.2Z"/>
<g fill="#fff" fill-opacity="0.78"><rect x="2.6" y="13.2" width="1.8" height="1.9"/><rect x="6.2" y="13.2" width="1.8" height="1.9"/><rect x="9.8" y="13.2" width="1.8" height="1.9"/><rect x="2.6" y="17.2" width="1.8" height="1.9"/><rect x="6.2" y="17.2" width="1.8" height="1.9"/><rect x="9.8" y="17.2" width="1.8" height="1.9"/></g>
</g>
<g transform="translate(507.20 185.80) scale(1.0)" fill="#fde725">
<path d="M0 22.4V10.2L4.5 7.1V9.3L9.2 6.6V9.3L14 6.6V22.4Z"/>
<path d="M16.3 22.4L16.6 4.3H21.6L21.9 22.4Z"/>
<path d="M17.1 3.2V1.4A2 2.1 0 0 1 21.1 1.4V3.2Z"/>
<g fill="#fff" fill-opacity="0.78"><rect x="2.6" y="13.2" width="1.8" height="1.9"/><rect x="6.2" y="13.2" width="1.8" height="1.9"/><rect x="9.8" y="13.2" width="1.8" height="1.9"/><rect x="2.6" y="17.2" width="1.8" height="1.9"/><rect x="6.2" y="17.2" width="1.8" height="1.9"/><rect x="9.8" y="17.2" width="1.8" height="1.9"/></g>
</g>
<g transform="translate(483.00 198.60) scale(1.0)" fill="#21918c">
<path d="M0 22.4V10.2L4.5 7.1V9.3L9.2 6.6V9.3L14 6.6V22.4Z"/>
<path d="M16.3 22.4L16.6 4.3H21.6L21.9 22.4Z"/>
<path d="M17.1 3.2V1.4A2 2.1 0 0 1 21.1 1.4V3.2Z"/>
<g fill="#fff" fill-opacity="0.78"><rect x="2.6" y="13.2" width="1.8" height="1.9"/><rect x="6.2" y="13.2" width="1.8" height="1.9"/><rect x="9.8" y="13.2" width="1.8" height="1.9"/><rect x="2.6" y="17.2" width="1.8" height="1.9"/><rect x="6.2" y="17.2" width="1.8" height="1.9"/><rect x="9.8" y="17.2" width="1.8" height="1.9"/></g>
</g>
<g transform="translate(20.90 435.80) scale(1.0)" fill="#3b528b">
<path d="M0 22.4V10.2L4.5 7.1V9.3L9.2 6.6V9.3L14 6.6V22.4Z"/>
<path d="M16.3 22.4L16.6 4.3H21.6L21.9 22.4Z"/>
<path d="M17.1 3.2V1.4A2 2.1 0 0 1 21.1 1.4V3.2Z"/>
<g fill="#fff" fill-opacity="0.78"><rect x="2.6" y="13.2" width="1.8" height="1.9"/><rect x="6.2" y="13.2" width="1.8" height="1.9"/><rect x="9.8" y="13.2" width="1.8" height="1.9"/><rect x="2.6" y="17.2" width="1.8" height="1.9"/><rect x="6.2" y="17.2" width="1.8" height="1.9"/><rect x="9.8" y="17.2" width="1.8" height="1.9"/></g>
</g>
<g transform="translate(53.90 450.70) scale(1.0)" fill="#440154">
<path d="M0 22.4V10.2L4.5 7.1V9.3L9.2 6.6V9.3L14 6.6V22.4Z"/>
<path d="M16.3 22.4L16.6 4.3H21.6L21.9 22.4Z"/>
<path d="M17.1 3.2V1.4A2 2.1 0 0 1 21.1 1.4V3.2Z"/>
<g fill="#fff" fill-opacity="0.78"><rect x="2.6" y="13.2" width="1.8" height="1.9"/><rect x="6.2" y="13.2" width="1.8" height="1.9"/><rect x="9.8" y="13.2" width="1.8" height="1.9"/><rect x="2.6" y="17.2" width="1.8" height="1.9"/><rect x="6.2" y="17.2" width="1.8" height="1.9"/><rect x="9.8" y="17.2" width="1.8" height="1.9"/></g>
</g>
</g>
</svg>
</body></html>
